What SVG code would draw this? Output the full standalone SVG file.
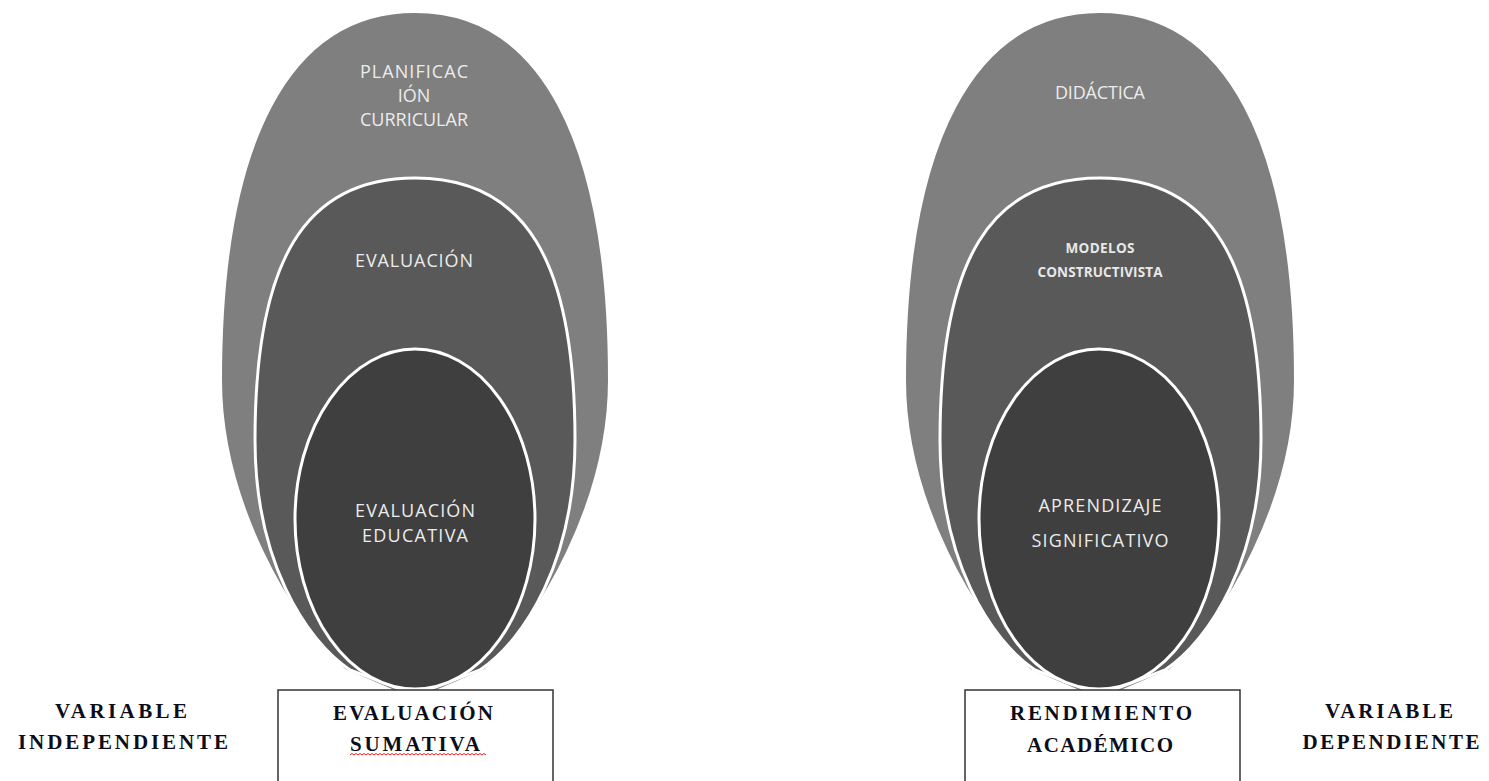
<svg xmlns="http://www.w3.org/2000/svg" width="1489" height="781" viewBox="0 0 1489 781">
<defs>
<style>
.outer{fill:#7f7f7f;stroke:#ffffff;stroke-width:2}
.mid{fill:#595959;stroke:#ffffff;stroke-width:3}
.inner{fill:#3f3f3f;stroke:#ffffff;stroke-width:3}
.lbl{font-family:"Open Sans","Liberation Sans",sans-serif;font-size:18px;fill:#ececec;text-anchor:middle}
.lbls{font-family:"Open Sans","Liberation Sans",sans-serif;font-size:13.5px;font-weight:bold;fill:#e8e8e8;text-anchor:middle}
.box{fill:#ffffff;stroke:#333333;stroke-width:1.5}
.ser{font-family:"Liberation Serif","Times New Roman",serif;font-size:21px;font-weight:bold;fill:#0d0d1a;text-anchor:middle}
</style>
</defs>

<g id="left-outer">
<path class="outer" d="M415,12 C290,12 221,140 221,380 C221,500 290,620 345,670 L415,700 L485,670 C540,620 609,500 609,380 C609,140 540,12 415,12 Z"/>
<text class="lbl" x="414" y="78" textLength="108" lengthAdjust="spacing">PLANIFICAC</text>
<text class="lbl" x="414" y="102">IÓN</text>
<text class="lbl" x="414" y="126" textLength="108" lengthAdjust="spacing">CURRICULAR</text>
</g>
<g id="left-middle">
<path class="mid" d="M415,178 C305,178 255,260 255,440 C255,560 305,640 350,670 L415,695 L480,670 C525,640 575,560 575,440 C575,260 525,178 415,178 Z"/>
<text class="lbl" x="414" y="267" textLength="118" lengthAdjust="spacing">EVALUACIÓN</text>
</g>
<g id="left-inner">
<ellipse class="inner" cx="415" cy="519" rx="120" ry="170"/>
<text class="lbl" x="415" y="517" textLength="120" lengthAdjust="spacing">EVALUACIÓN</text>
<text class="lbl" x="415" y="542" textLength="106" lengthAdjust="spacing">EDUCATIVA</text>
</g>

<g id="right-outer">
<path class="outer" d="M1100,12 C975,12 905,140 905,380 C905,500 975,620 1030,670 L1100,700 L1170,670 C1225,620 1295,500 1295,380 C1295,140 1225,12 1100,12 Z"/>
<text class="lbl" x="1100" y="99" textLength="90" lengthAdjust="spacing">DIDÁCTICA</text>
</g>
<g id="right-middle">
<path class="mid" d="M1100,178 C990,178 940,260 940,440 C940,560 990,640 1035,670 L1100,695 L1165,670 C1210,640 1261,560 1261,440 C1261,260 1210,178 1100,178 Z"/>
<text class="lbls" x="1100" y="253" textLength="69" lengthAdjust="spacing">MODELOS</text>
<text class="lbls" x="1100" y="277" textLength="125" lengthAdjust="spacing">CONSTRUCTIVISTA</text>
</g>
<g id="right-inner">
<ellipse class="inner" cx="1099" cy="519" rx="120" ry="170"/>
<text class="lbl" x="1100" y="512" textLength="123" lengthAdjust="spacing">APRENDIZAJE</text>
<text class="lbl" x="1100" y="547" textLength="137" lengthAdjust="spacing">SIGNIFICATIVO</text>
</g>

<g id="box-left">
<rect class="box" x="278" y="690" width="275" height="100"/>
<text class="ser" x="413" y="720" textLength="160" lengthAdjust="spacing">EVALUACIÓN</text>
<text class="ser" x="415" y="751" textLength="130" lengthAdjust="spacing">SUMATIVA</text>
<path d="M350,755 l2,-1.5 l2,1.5 l2,-1.5 l2,1.5 l2,-1.5 l2,1.5 l2,-1.5 l2,1.5 l2,-1.5 l2,1.5 l2,-1.5 l2,1.5 l2,-1.5 l2,1.5 l2,-1.5 l2,1.5 l2,-1.5 l2,1.5 l2,-1.5 l2,1.5 l2,-1.5 l2,1.5 l2,-1.5 l2,1.5 l2,-1.5 l2,1.5 l2,-1.5 l2,1.5 l2,-1.5 l2,1.5 l2,-1.5 l2,1.5 l2,-1.5 l2,1.5 l2,-1.5 l2,1.5 l2,-1.5 l2,1.5 l2,-1.5 l2,1.5 l2,-1.5 l2,1.5 l2,-1.5 l2,1.5 l2,-1.5 l2,1.5 l2,-1.5 l2,1.5 l2,-1.5 l2,1.5 l2,-1.5 l2,1.5 l2,-1.5 l2,1.5 l2,-1.5 l2,1.5 l2,-1.5 l2,1.5 l2,-1.5 l2,1.5 l2,-1.5 l2,1.5 l2,-1.5 l2,1.5 l2,-1.5 l2,1.5 l2,-1.5 l2,1.5" fill="none" stroke="#e02020" stroke-width="1"/>
</g>
<g id="label-left">
<text class="ser" x="121" y="718" textLength="132" lengthAdjust="spacing">VARIABLE</text>
<text class="ser" x="123" y="749" textLength="210" lengthAdjust="spacing">INDEPENDIENTE</text>
</g>

<g id="box-right">
<rect class="box" x="965" y="690" width="275" height="100"/>
<text class="ser" x="1101" y="720" textLength="182" lengthAdjust="spacing">RENDIMIENTO</text>
<text class="ser" x="1100" y="752" textLength="146" lengthAdjust="spacing">ACADÉMICO</text>
</g>
<g id="label-right">
<text class="ser" x="1389" y="718" textLength="128" lengthAdjust="spacing">VARIABLE</text>
<text class="ser" x="1391" y="749" textLength="177" lengthAdjust="spacing">DEPENDIENTE</text>
</g>

<g id="connectors"></g>
</svg>
